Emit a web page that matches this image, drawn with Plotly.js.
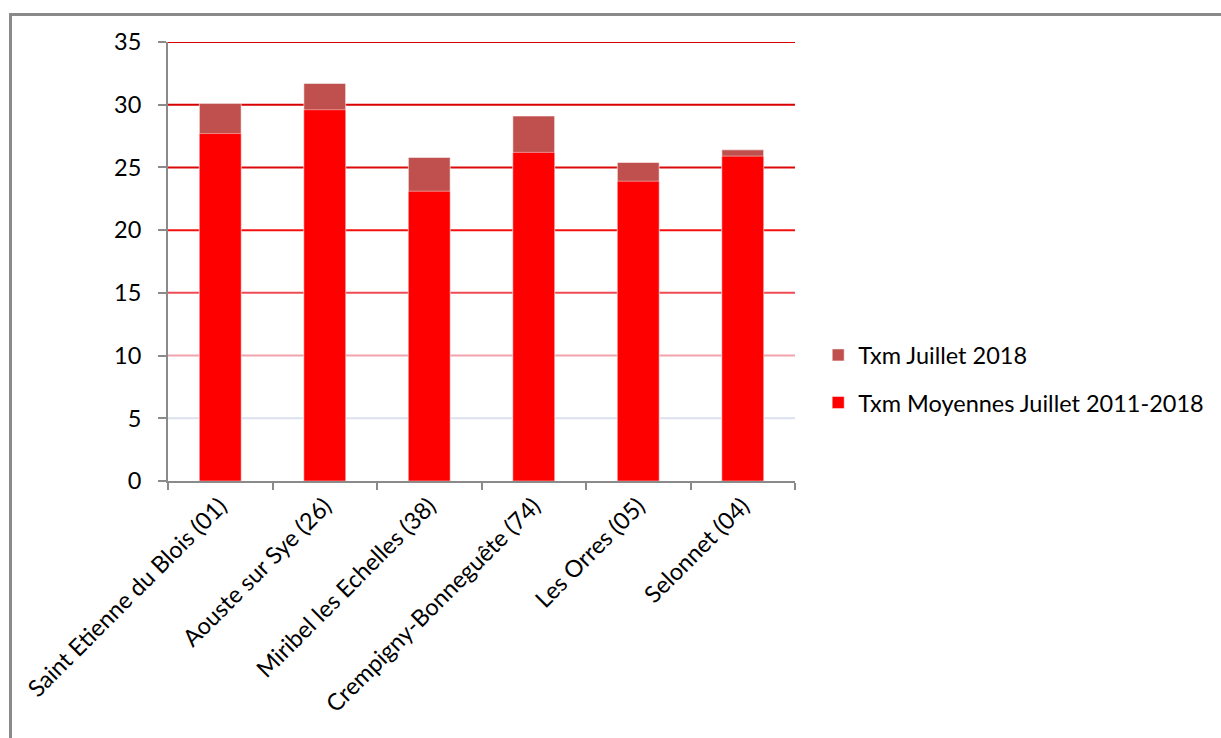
<!DOCTYPE html>
<html>
<head>
<meta charset="utf-8">
<script src="https://cdn.plot.ly/plotly-3.0.1.min.js"></script>
<style>
  html, body { margin: 0; padding: 0; background: #ffffff; overflow: hidden; }
  #frame { position: absolute; left: 9px; top: 13px; width: 1300px; height: 800px;
           border-left: 3px solid #8a8a8a; border-top: 3px solid #8a8a8a; box-sizing: border-box; }
  #chart { position: absolute; left: 0; top: 0; width: 1221px; height: 738px; }
</style>
</head>
<body>
<div id="frame"></div>
<div id="chart"></div>
<script>
// ---- data ----
const categories = [
  "Saint Etienne du Blois (01)",
  "Aouste sur Sye (26)",
  "Miribel les Echelles (38)",
  "Crempigny-Bonneguête (74)",
  "Les Orres (05)",
  "Selonnet (04)"
];
const txmJuillet2018 = [30.1, 31.7, 25.8, 29.1, 25.4, 26.4];
const txmMoyennes = [27.7, 29.6, 23.1, 26.2, 23.9, 25.9];
const yTickValues = [0, 5, 10, 15, 20, 25, 30, 35];
const seriesNames = ["Txm Juillet 2018", "Txm Moyennes Juillet 2011-2018"];

// ---- styles ----
const gridColors = {5: "#dbe1ee", 10: "#f1a3ad", 15: "#ef4b55", 20: "#f41010", 25: "#dc0a0a", 30: "#d80000", 35: "#d80000"};
const FONT = "Lato, 'Open Sans', sans-serif";
const FS = 23.5;

const traces = [
  {
    type: "bar", x: categories, y: txmJuillet2018, name: seriesNames[0],
    legendgroup: "a",
    marker: { color: "#c0504d", line: { color: "rgba(255,255,255,0.55)", width: 1 } },
    hoverinfo: "x+y+name"
  },
  {
    type: "bar", x: categories, y: txmMoyennes, name: seriesNames[1],
    legendgroup: "b",
    marker: { color: "#ff0000", line: { color: "rgba(255,255,255,0.45)", width: 1 } },
    hoverinfo: "x+y+name"
  }
];

const shapes = yTickValues.filter(v => v > 0).map(v => ({
  type: "line", xref: "paper", yref: "y", x0: 0, x1: 1, y0: v, y1: v,
  line: { color: gridColors[v], width: 2 }, layer: "below"
}));

const layout = {
  width: 1221, height: 738,
  margin: { l: 168, r: 426, t: 42, b: 257, pad: 0 },
  paper_bgcolor: "rgba(0,0,0,0)",
  plot_bgcolor: "rgba(0,0,0,0)",
  barmode: "overlay",
  bargap: 0.6,
  font: { family: FONT, size: FS, color: "#000000" },
  showlegend: true,
  legend: {
    x: 1.037, xanchor: "left", y: 0.232, yanchor: "middle",
    traceorder: "grouped", tracegroupgap: 14,
    font: { family: FONT, size: FS, color: "#000000" },
    bgcolor: "rgba(0,0,0,0)"
  },
  xaxis: {
    type: "category",
    showline: true, linecolor: "#8a8a8a", linewidth: 2,
    ticks: "outside", tickson: "boundaries", ticklen: 7, tickcolor: "#8a8a8a", tickwidth: 2,
    tickangle: -45, showgrid: false, zeroline: false,
    tickfont: { family: FONT, size: FS, color: "#000000" },
    fixedrange: true
  },
  yaxis: {
    range: [0, 35], tickvals: yTickValues,
    showline: true, linecolor: "#8a8a8a", linewidth: 2,
    ticks: "outside", ticklen: 8, tickcolor: "#8a8a8a", tickwidth: 2,
    ticklabelstandoff: 12,
    showgrid: false, zeroline: false,
    tickfont: { family: FONT, size: FS, color: "#000000" },
    fixedrange: true
  },
  shapes: shapes
};

Plotly.newPlot("chart", traces, layout, { displayModeBar: false, staticPlot: true });
</script>
</body>
</html>
